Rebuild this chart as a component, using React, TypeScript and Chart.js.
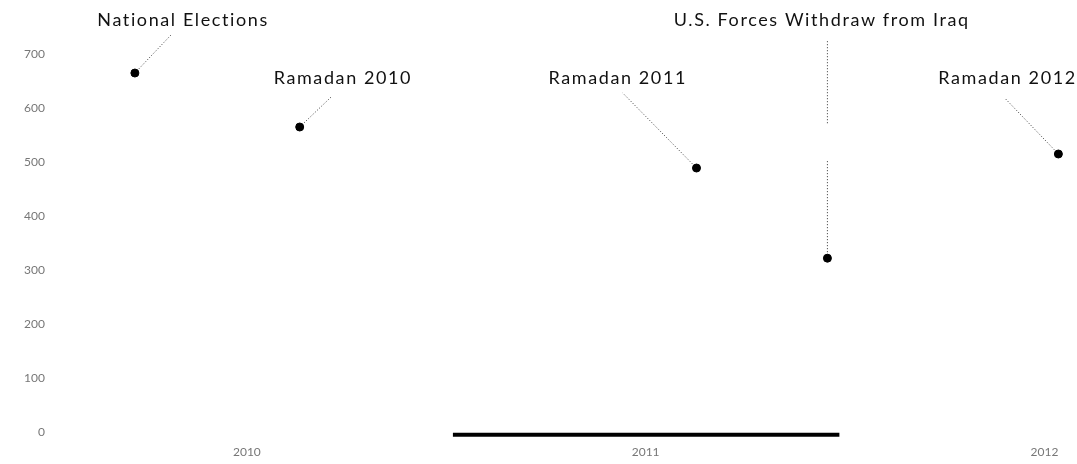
import React, { useEffect, useRef } from "react";
import { Chart, registerables } from "chart.js";

Chart.register(...registerables);

// months since Jan 2010
const eventLabels = ["National Elections", "Ramadan 2010", "Ramadan 2011", "U.S. Forces Withdraw from Iraq", "Ramadan 2012"];
const eventMonths = [2.63, 7.59, 19.53, 23.47, 30.42];
const eventValues = [665, 565, 489, 322, 515];
const labelMonths = [4.08, 8.89, 17.16, 23.3, 28.89];
const labelValues = [763, 656, 656, 763, 656];
// leader segments: [fromMonth, fromValue, toMonth, toValue]
const leaderSegments = [
  [2.63, 665, 3.74, 737],
  [7.59, 565, 8.56, 622],
  [19.53, 489, 17.31, 628],
  [23.47, 322, 23.47, 504],
  [23.47, 572, 23.47, 726],
  [30.42, 515, 28.8, 619],
];
const highlightRange = [12.2, 23.83];
const highlightValue = -5;
const yearTickMonths = [6, 18, 30];
const yearLabels = ["2010", "2011", "2012"];
const yTicks = [0, 100, 200, 300, 400, 500, 600, 700];

const FONT = "Lato, 'Open Sans', sans-serif";

export default function App() {
  const ref = useRef<HTMLCanvasElement | null>(null);
  useEffect(() => {
    document.body.style.margin = "0";
    const ctx = ref.current!;
    const labelPlugin = {
      id: "eventLabels",
      afterDatasetsDraw(chart: any) {
        const c = chart.ctx;
        const xs = chart.scales.x;
        const ys = chart.scales.y;
        c.save();
        c.font = `18px ${FONT}`;
        try {
          (c as any).letterSpacing = "1.6px";
        } catch (e) {}
        c.fillStyle = "#111";
        c.textAlign = "center";
        c.textBaseline = "middle";
        eventLabels.forEach((t, i) => {
          c.fillText(t, xs.getPixelForValue(labelMonths[i]), ys.getPixelForValue(labelValues[i]));
        });
        c.restore();
      },
    };
    const datasets: any[] = [
      {
        type: "scatter",
        data: eventMonths.map((m, i) => ({ x: m, y: eventValues[i] })),
        pointRadius: 4,
        pointBackgroundColor: "#000",
        pointBorderColor: "#000",
        showLine: false,
        clip: false,
      },
      ...leaderSegments.map((s) => ({
        type: "line",
        data: [
          { x: s[0], y: s[1] },
          { x: s[2], y: s[3] },
        ],
        borderColor: "#333",
        borderWidth: 1,
        borderDash: [1, 2],
        pointRadius: 0,
        clip: false,
      })),
      {
        type: "line",
        data: highlightRange.map((m) => ({ x: m, y: highlightValue })),
        borderColor: "#000",
        borderWidth: 4,
        pointRadius: 0,
        borderCapStyle: "butt",
        clip: false,
      },
    ];
    const chart = new Chart(ctx, {
      type: "scatter",
      data: { datasets },
      options: {
        animation: false,
        responsive: true,
        maintainAspectRatio: false,
        layout: { padding: 0 },
        plugins: { legend: { display: false }, tooltip: { enabled: false } },
        scales: {
          x: {
            type: "linear",
            min: 0.226,
            max: 30.83,
            grid: { display: false, drawTicks: false },
            border: { display: false },
            afterBuildTicks: (s: any) => {
              s.ticks = yearTickMonths.map((v) => ({ value: v }));
            },
            afterFit: (s: any) => {
              s.height = 27;
              s.paddingLeft = 0;
              s.paddingRight = 0;
            },
            ticks: {
              padding: 8,
              color: "#777",
              font: { family: FONT, size: 12 },
              maxRotation: 0,
              autoSkip: false,
              callback: (v: any) => {
                const i = yearTickMonths.indexOf(Number(v));
                return i >= 0 ? yearLabels[i] : "";
              },
            },
          },
          y: {
            type: "linear",
            min: -9.26,
            max: 791,
            grid: { display: false, drawTicks: false },
            border: { display: false },
            afterBuildTicks: (s: any) => {
              s.ticks = yTicks.map((v) => ({ value: v }));
            },
            afterFit: (s: any) => {
              s.width = 55;
              s.paddingTop = 0;
              s.paddingBottom = 0;
            },
            ticks: {
              padding: 10,
              color: "#777",
              font: { family: FONT, size: 12 },
              autoSkip: false,
            },
          },
        },
      },
      plugins: [labelPlugin],
    } as any);
    return () => chart.destroy();
  }, []);
  return (
    <div style={{ width: 1077, height: 464, position: "relative" }}>
      <canvas ref={ref} />
    </div>
  );
}
